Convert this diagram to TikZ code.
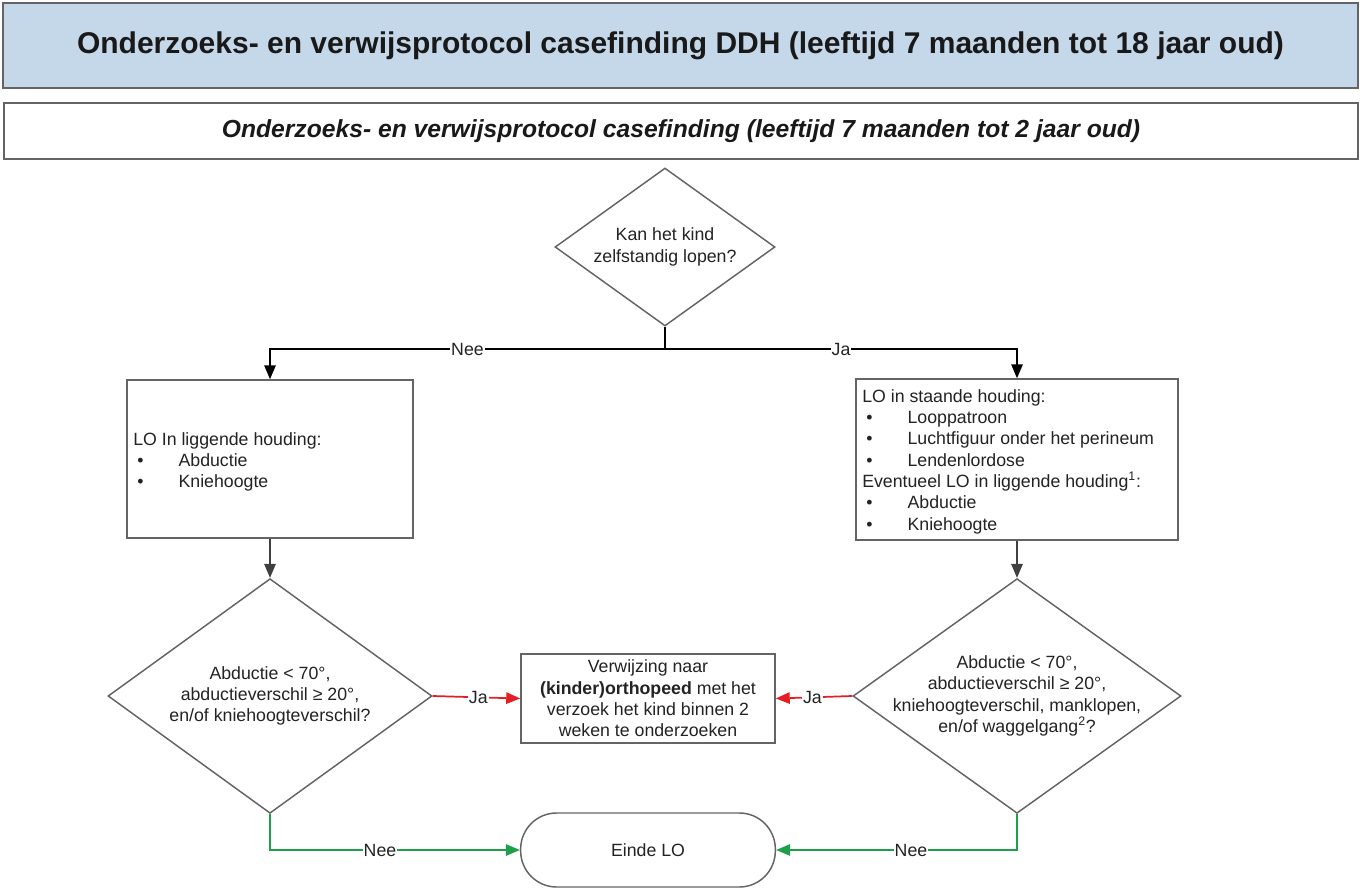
\documentclass[tikz,border=0pt]{standalone}
\usepackage{fontspec}
\setmainfont{Liberation Sans}
\usetikzlibrary{shapes.geometric,arrows.meta}
\definecolor{titleblue}{RGB}{197,216,234}
\definecolor{boxgray}{RGB}{100,100,100}
\definecolor{linegray}{RGB}{64,64,64}
\definecolor{ared}{RGB}{228,30,36}
\definecolor{agreen}{RGB}{30,160,75}
\definecolor{txt}{RGB}{35,35,35}
\newcommand\lobullet{\makebox[34pt][l]{\hspace{3pt}\textbullet}}
\begin{document}
\begin{tikzpicture}[x=0.75pt,y=-0.75pt,
  body/.style={font=\fontsize{13.3}{16}\selectfont, text=txt},
  box/.style={draw=boxgray, line width=1.1pt, fill=white, inner sep=0pt},
  dia/.style={diamond, draw=boxgray, line width=1.1pt, fill=white, inner sep=0pt},
  tip/.style={-{Triangle[length=10.5pt,width=8.5pt]}},
  lbl/.style={body, fill=white, inner sep=0.8pt},
  blackline/.style={draw=black, line width=1.5pt},
  grayline/.style={draw=linegray, line width=1.3pt},
  redline/.style={draw=ared, line width=1.3pt},
  greenline/.style={draw=agreen, line width=1.3pt}]
\useasboundingbox (0,0) rectangle (1364,888);

% headers
\node[box, fill=titleblue, line width=1.3pt, minimum width=1016pt, minimum height=64pt, text=black!90]
  (title) at (680.5,45.5)
  {\fontsize{22.5}{27}\selectfont\bfseries Onderzoeks- en verwijsprotocol casefinding DDH (leeftijd 7 maanden tot 18 jaar oud)};
\node[box, line width=1.3pt, minimum width=1016pt, minimum height=42pt, text=black!90]
  (sub) at (681,131)
  {\fontsize{18.5}{22}\selectfont\bfseries\itshape Onderzoeks- en verwijsprotocol casefinding (leeftijd 7 maanden tot 2 jaar oud)};

% top decision
\node[dia, minimum width=165pt, minimum height=118.5pt] (q1) at (665,247) {};
\node[body, align=center] (q1t) at (q1.center) {Kan het kind\\zelfstandig lopen?};

% left box
\node[box, minimum width=214.5pt, minimum height=118.5pt] (lbox) at (270,459) {};
\node[body, align=left, anchor=north west, inner sep=0pt] (lboxt) at (133,432)
  {LO In liggende houding:\\\lobullet Abductie\\\lobullet Kniehoogte};

% right box
\node[box, minimum width=241.5pt, minimum height=120.75pt] (rbox) at (1017,459.5) {};
\node[body, align=left, anchor=north west, inner sep=0pt] (rboxt) at (862,389)
  {LO in staande houding:\\\lobullet Looppatroon\\\lobullet Luchtfiguur onder het perineum\\\lobullet Lendenlordose\\Eventueel LO in liggende houding\textsuperscript{1}:\\\lobullet Abductie\\\lobullet Kniehoogte};

% left decision
\node[dia, minimum width=243pt, minimum height=176pt] (q2) at (270,696) {};
\node[body, align=center] (q2t) at (q2.center)
  {Abductie < 70°,\\abductieverschil ≥ 20°,\\en/of kniehoogteverschil?};

% right decision
\node[dia, minimum width=246pt, minimum height=176pt] (q3) at (1017,696) {};
\node[body, align=center] (q3t) at (q3.center)
  {Abductie < 70°,\\abductieverschil ≥ 20°,\\kniehoogteverschil, manklopen,\\en/of waggelgang\textsuperscript{2}?};

% referral box
\node[box, body, align=center, minimum width=190.5pt, minimum height=66.75pt] (ref) at (648,698.5)
  {Verwijzing naar\\\textbf{(kinder)orthopeed} met het\\verzoek het kind binnen 2\\weken te onderzoeken};

% end
\node[box, body, rounded corners=27pt, minimum width=191pt, minimum height=55.5pt] (end) at (648,850) {Einde LO};

% connectors
\coordinate (split) at (665,349);
\draw[blackline] (q1.south) -- (split);
\draw[blackline, tip] (split) -| (lbox.north) node[lbl, pos=0.25] {Nee};
\draw[blackline, tip] (split) -| (rbox.north) node[lbl, pos=0.25] {Ja};
\draw[grayline, tip] (lbox.south) -- (q2.north);
\draw[grayline, tip] (rbox.south) -- (q3.north);
\draw[redline, tip] (q2.east) -- (ref.west) node[lbl, pos=0.52] {Ja};
\draw[redline, tip] (q3.west) -- (ref.east) node[lbl, pos=0.52] {Ja};
\draw[greenline, tip] (q2.south) |- (end.west) node[lbl, pos=0.72] {Nee};
\draw[greenline, tip] (q3.south) |- (end.east) node[lbl, pos=0.72] {Nee};
\end{tikzpicture}
\end{document}
